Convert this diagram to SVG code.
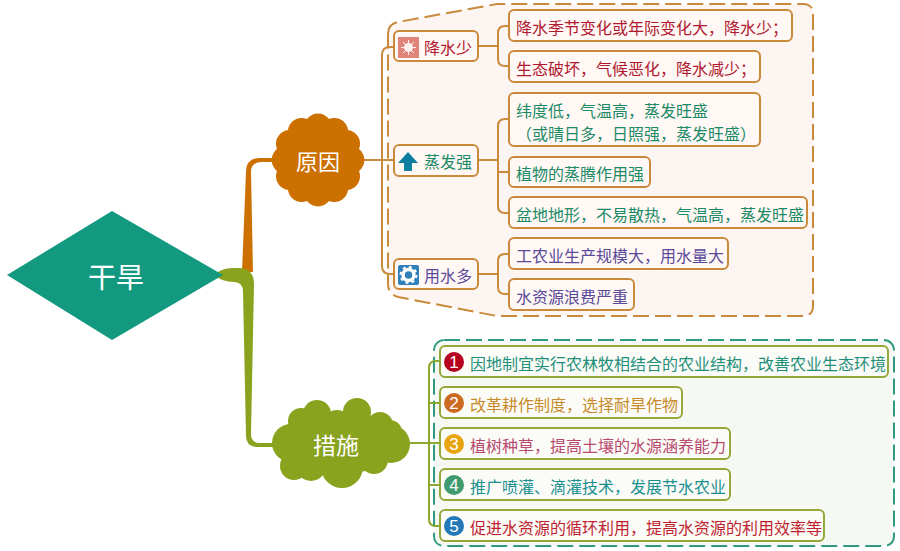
<svg xmlns="http://www.w3.org/2000/svg" width="900" height="551" viewBox="0 0 900 551">
<style>
text{font-family:"Noto Sans CJK SC","Noto Sans",sans-serif;font-size:16px}
.o{fill:#fff8f5;stroke:#c98a3c;stroke-width:2}
.g{fill:#fbfcf8;stroke:#95a83c;stroke-width:2}
.ol{fill:none;stroke:#c98a3c;stroke-width:2}
.gl{fill:none;stroke:#8ca82e;stroke-width:2}
.w{fill:#fff}
.red{fill:#b0182f}.grn{fill:#1c8a66}.pur{fill:#5a4a99}
.n{fill:#fff;font-family:"Liberation Sans",sans-serif;font-size:17px;text-anchor:middle}
</style>
<rect width="900" height="551" fill="#fff"/>
<g id="boundaries">
<path d="M388 34Q388 24 398 22L497 4H803Q813 4 813 14V306Q813 316 803 316H497L398 297Q388 294 388 284Z" fill="#fdf5f2" stroke="#c98a3c" stroke-width="2" stroke-dasharray="16 6"/>
<rect x="434" y="340" width="460" height="206" rx="10" fill="#f6f8f3" stroke="#2f9a80" stroke-width="2" stroke-dasharray="16 6"/>
</g>
<g id="connectors">
<path d="M242 272L246 172Q246 158 260 158L275 158V162L262 162Q251 162 251 172L253 272Z" fill="#cc7000"/>
<path d="M214 275Q222 268 232 268H238Q254 268 254 284L251 434Q251 443 260 443L275 443V447L258 447Q246 447 246 436L243 292Q243 282 234 282Q222 282 214 275Z" fill="#8aa31e"/>
<path class="ol" d="M363 160H394M394 47H390Q382 47 382 55V266Q382 274 390 274H394"/>
<path class="ol" d="M478 46H498M509 26H505Q498 26 498 33V59Q498 66 505 66H509"/>
<path class="ol" d="M478 160H498M509 119H505Q498 119 498 126V206Q498 213 505 213H509M498 172H509"/>
<path class="ol" d="M478 274H498M509 254H505Q498 254 498 261V287Q498 294 505 294H509"/>
<path class="gl" d="M408 443H440M440 361H436Q429 361 429 368V519Q429 526 436 526H440M429 403H440M429 485H440"/>
</g>
<g id="root"><polygon points="7,275 112,211 223,275 112,340" fill="#12997f"/><text x="116" y="288" class="w" text-anchor="middle" style="font-size:28px">干旱</text></g>
<g id="cause"><path d="M359.05 171A14 14 0 0 1 348.05 190.05A14 14 0 0 1 329 201.05A14 14 0 0 1 307 201.05A14 14 0 0 1 287.95 190.05A14 14 0 0 1 276.95 171A14 14 0 0 1 276.95 149A14 14 0 0 1 287.95 129.95A14 14 0 0 1 307 118.95A14 14 0 0 1 329 118.95A14 14 0 0 1 348.05 129.95A14 14 0 0 1 359.05 149A14 14 0 0 1 359.05 171Z" fill="#cc7000"/><text x="318" y="170" class="w" text-anchor="middle" style="font-size:22px">原因</text></g>
<g id="measure"><g fill="#8aa31e"><ellipse cx="340" cy="445" rx="50" ry="30"/><circle cx="291" cy="443" r="19"/><circle cx="391" cy="444" r="19"/><circle cx="317" cy="414" r="14"/><circle cx="357" cy="412" r="14"/><circle cx="337" cy="424" r="14"/><circle cx="301" cy="421" r="13"/><circle cx="380" cy="425" r="13"/><circle cx="390" cy="432" r="12"/><circle cx="294" cy="466" r="14"/><circle cx="311" cy="466" r="15"/><circle cx="342" cy="467" r="21"/><circle cx="374" cy="460" r="14"/></g><text x="336" y="454" class="w" text-anchor="middle" style="font-size:23px">措施</text></g>
<g id="n1"><rect class="o" x="394" y="31" width="84" height="30" rx="5"/><rect x="398" y="37" width="21" height="21" fill="#e0857a"/><circle cx="408.500" cy="47.500" r="4.500" fill="#fff3ee"/><path d="M408.500 40V55M401 47.500H416M403 42L414 53M414 42L403 53" stroke="#fff3ee" stroke-width="1"/><text x="424" y="54" class="red">降水少</text></g>
<g id="n2"><rect class="o" x="394" y="145" width="84" height="31" rx="5"/><path d="M408 152L418 163H412V171H404V163H398Z" fill="#0f7f9f"/><text x="424" y="168" class="grn">蒸发强</text></g>
<g id="n3"><rect class="o" x="394" y="259" width="84" height="30" rx="5"/><rect x="398" y="265" width="21" height="20" rx="2" fill="#2f7fb8"/><circle cx="408.500" cy="275" r="5.500" fill="none" stroke="#fff" stroke-width="3.500"/><circle cx="408.500" cy="275" r="8" fill="none" stroke="#fff" stroke-width="2" stroke-dasharray="3 3.300"/><text x="424" y="282" class="pur">用水多</text></g>
<g id="l1"><rect class="o" x="509" y="10" width="283" height="31" rx="5"/><text x="516" y="34" class="red">降水季节变化或年际变化大，降水少；</text></g>
<g id="l2"><rect class="o" x="509" y="51" width="251" height="31" rx="5"/><text x="516" y="75" class="red">生态破坏，气候恶化，降水减少；</text></g>
<g id="l3"><rect class="o" x="509" y="93" width="251" height="53" rx="5"/><text x="516" y="117" class="grn">纬度低，气温高，蒸发旺盛</text><text x="516" y="140" class="grn">（或晴日多，日照强，蒸发旺盛）</text></g>
<g id="l4"><rect class="o" x="509" y="157" width="141" height="30" rx="5"/><text x="516" y="180" class="grn">植物的蒸腾作用强</text></g>
<g id="l5"><rect class="o" x="509" y="197" width="298" height="31" rx="5"/><text x="516" y="221" class="grn">盆地地形，不易散热，气温高，蒸发旺盛</text></g>
<g id="l6"><rect class="o" x="509" y="238" width="219" height="31" rx="5"/><text x="516" y="262" class="pur">工农业生产规模大，用水量大</text></g>
<g id="l7"><rect class="o" x="509" y="279" width="125" height="31" rx="5"/><text x="516" y="303" class="pur">水资源浪费严重</text></g>
<g id="m1"><rect class="g" x="440" y="346" width="448" height="31" rx="5"/><circle cx="454" cy="362" r="10" fill="#b5001f"/><text x="454" y="368" class="n">1</text><text x="470" y="370" fill="#1f8f7a">因地制宜实行农林牧相结合的农业结构，改善农业生态环境</text></g>
<g id="m2"><rect class="g" x="440" y="387" width="242" height="31" rx="5"/><circle cx="454" cy="403" r="10" fill="#cc6a22"/><text x="454" y="409" class="n">2</text><text x="470" y="411" fill="#c98a2a">改革耕作制度，选择耐旱作物</text></g>
<g id="m3"><rect class="g" x="440" y="428" width="290" height="31" rx="5"/><circle cx="454" cy="444" r="10" fill="#e8a40f"/><text x="454" y="450" class="n">3</text><text x="470" y="452" fill="#b84a70">植树种草，提高土壤的水源涵养能力</text></g>
<g id="m4"><rect class="g" x="440" y="469" width="290" height="31" rx="5"/><circle cx="454" cy="485" r="10" fill="#3f9a70"/><text x="454" y="491" class="n">4</text><text x="470" y="493" fill="#1a8f8f">推广喷灌、滴灌技术，发展节水农业</text></g>
<g id="m5"><rect class="g" x="440" y="510" width="384" height="31" rx="5"/><circle cx="454" cy="526" r="10" fill="#2379b8"/><text x="454" y="532" class="n">5</text><text x="470" y="534" fill="#c01f30">促进水资源的循环利用，提高水资源的利用效率等</text></g>
</svg>
